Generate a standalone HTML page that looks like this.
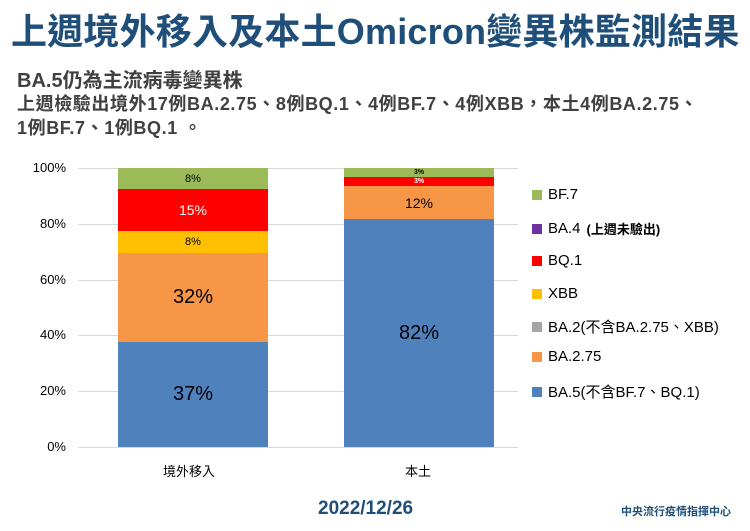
<!DOCTYPE html>
<html><head><meta charset="utf-8"><style>
body{margin:0;width:750px;height:531px;background:#fff;overflow:hidden;font-family:"Liberation Sans","Noto Sans CJK TC",sans-serif;position:relative}
.a{position:absolute;white-space:nowrap}
.g{position:absolute;left:78px;width:440px;height:1px;background:#d9d9d9}
.yl{position:absolute;left:20px;width:46px;text-align:right;font-size:13px;color:#000}
.s{position:absolute;display:flex;align-items:center;justify-content:center;color:#000}
.lg{position:absolute;left:532px;font-size:15px;color:#000;display:flex;align-items:center}
.lg i{display:inline-block;width:10px;height:10px;margin-right:6px}
</style></head><body>
<div class="a" style="left:11px;top:3px;font-size:36px;font-weight:bold;color:#1f4e79;letter-spacing:0.2px">上週境外移入及本土Omicron變異株監測結果</div>
<div class="a" style="left:17px;top:64px;font-size:20px;font-weight:bold;color:#404040">BA.5仍為主流病毒變異株</div>
<div class="a" style="left:17px;top:92px;font-size:18px;font-weight:bold;color:#404040;line-height:24px;letter-spacing:0.6px">上週檢驗出境外17例BA.2.75、8例BQ.1、4例BF.7、4例XBB，本土4例BA.2.75、<br>1例BF.7、1例BQ.1 。</div>
<div class="g" style="top:168px"></div><div class="g" style="top:224px"></div><div class="g" style="top:280px"></div><div class="g" style="top:335px"></div><div class="g" style="top:391px"></div><div class="g" style="top:447px"></div>
<div class="yl" style="top:160px">100%</div><div class="yl" style="top:216px">80%</div><div class="yl" style="top:272px">60%</div><div class="yl" style="top:327px">40%</div><div class="yl" style="top:383px">20%</div><div class="yl" style="top:439px">0%</div>
<div class="s" style="left:118px;width:150px;top:342px;height:105px;background:#4f81bd;font-size:20px">37%</div>
<div class="s" style="left:118px;width:150px;top:253px;height:89px;background:#f79646;font-size:20px">32%</div>
<div class="s" style="left:118px;width:150px;top:231px;height:22px;background:#ffc000;font-size:11px">8%</div>
<div class="s" style="left:118px;width:150px;top:189px;height:42px;background:#ff0000;font-size:14px;color:#fff">15%</div>
<div class="s" style="left:118px;width:150px;top:168px;height:21px;background:#9bbb59;font-size:11px">8%</div>
<div class="s" style="left:344px;width:150px;top:219px;height:228px;background:#4f81bd;font-size:20px">82%</div>
<div class="s" style="left:344px;width:150px;top:186px;height:33px;background:#f79646;font-size:14px">12%</div>
<div class="s" style="left:344px;width:150px;top:177px;height:9px;background:#ff0000;font-size:7px;color:#fff;font-weight:bold">3%</div>
<div class="s" style="left:344px;width:150px;top:168px;height:9px;background:#9bbb59;font-size:7px;font-weight:bold">3%</div>
<div class="a" style="left:163px;top:461px;font-size:13px">境外移入</div>
<div class="a" style="left:405px;top:461px;font-size:13px">本土</div>
<div class="lg" style="top:186px"><i style="background:#9bbb59"></i>BF.7</div>
<div class="lg" style="top:219px"><i style="background:#7030a0"></i>BA.4 <b style="font-size:13px;margin-left:6px">(上週未驗出)</b></div>
<div class="lg" style="top:252px"><i style="background:#ff0000"></i>BQ.1</div>
<div class="lg" style="top:285px"><i style="background:#ffc000"></i>XBB</div>
<div class="lg" style="top:316px"><i style="background:#a5a5a5"></i>BA.2(不含BA.2.75、XBB)</div>
<div class="lg" style="top:348px"><i style="background:#f79646"></i>BA.2.75</div>
<div class="lg" style="top:381px"><i style="background:#4f81bd"></i>BA.5(不含BF.7、BQ.1)</div>
<div class="a" style="left:318px;top:498px;font-size:19px;font-weight:bold;color:#1f4e79">2022/12/26</div>
<div class="a" style="left:621px;top:503px;font-size:11px;font-weight:bold;color:#1f4e79">中央流行疫情指揮中心</div>
</body></html>
